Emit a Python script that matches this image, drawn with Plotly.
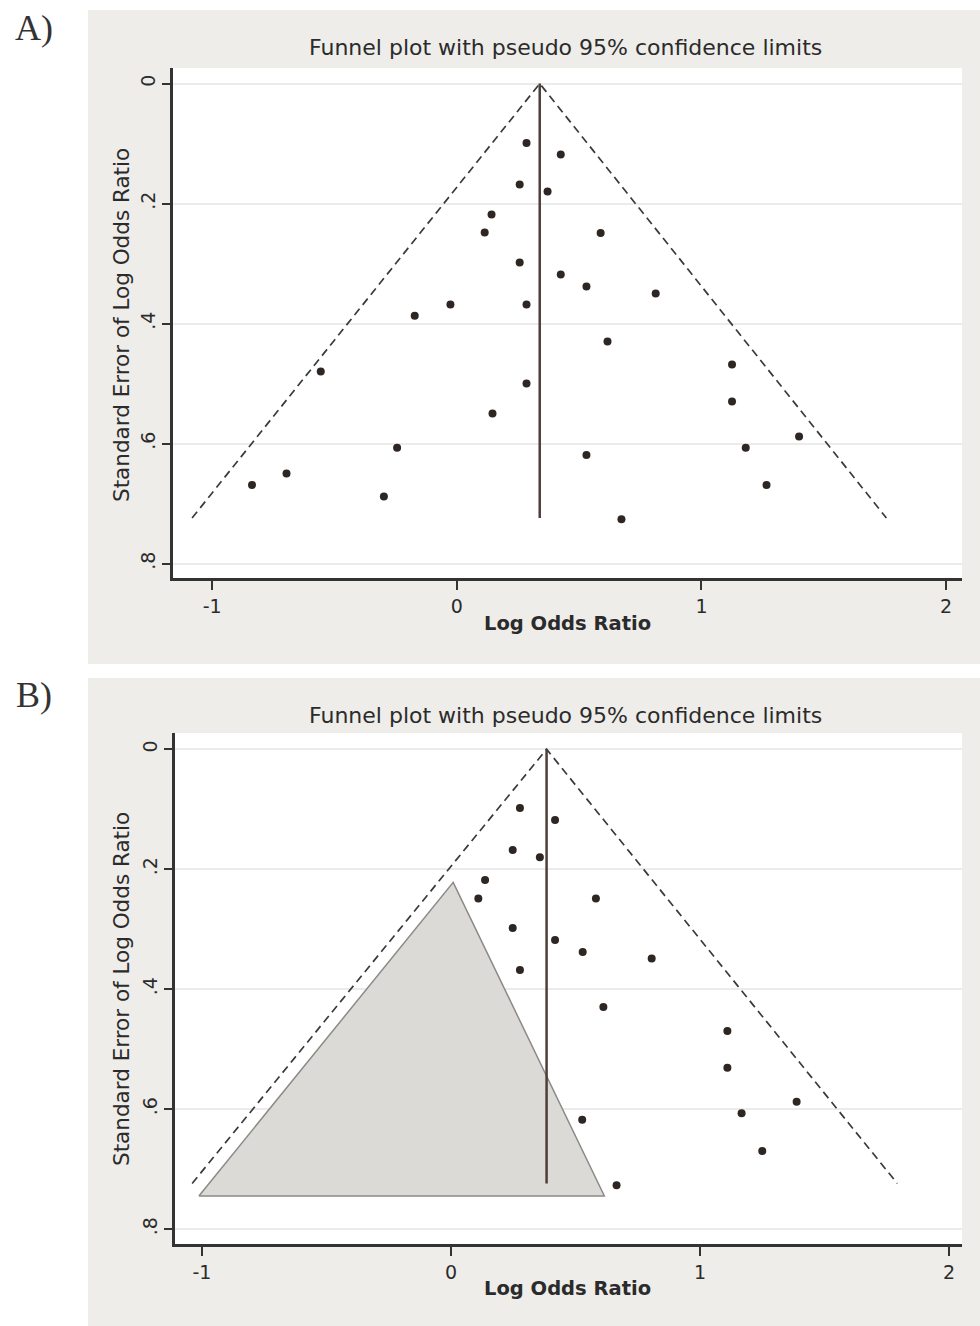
import plotly.graph_objects as go

# ---------------- data ----------------
# Panel A: all studies
a_logor = [0.285, 0.425, 0.257, 0.371, 0.142, 0.114, 0.588, 0.257, 0.425, 0.530,
           0.813, 0.285, -0.026, -0.172, 0.616, -0.556, 1.125, 0.285, 1.125, 0.146,
           1.399, -0.244, 1.181, 0.530, -0.696, -0.837, 1.266, -0.298, 0.673]
a_se = [0.099, 0.118, 0.168, 0.180, 0.218, 0.248, 0.249, 0.298, 0.318, 0.338,
        0.350, 0.368, 0.368, 0.387, 0.430, 0.480, 0.468, 0.500, 0.530, 0.550,
        0.588, 0.607, 0.607, 0.619, 0.650, 0.669, 0.669, 0.688, 0.726]
a_pooled = 0.339
a_funnel_x = [-1.082, 0.339, 1.756]
a_funnel_y = [0.724, 0.0, 0.724]
a_pooled_se = [0.0, 0.724]

# Panel B: studies visible outside the shaded (missing) region
b_logor = [0.277, 0.418, 0.248, 0.357, 0.137, 0.110, 0.582, 0.248, 0.418, 0.529,
           0.806, 0.277, 0.612, 1.110, 1.110, 1.388, 1.167, 0.527, 1.250, 0.665]
b_se = [0.098, 0.118, 0.168, 0.180, 0.218, 0.249, 0.249, 0.298, 0.318, 0.338,
        0.349, 0.368, 0.430, 0.470, 0.531, 0.588, 0.607, 0.618, 0.670, 0.727]
b_pooled = 0.384
b_funnel_x = [-1.039, 0.384, 1.792]
b_funnel_y = [0.724, 0.0, 0.724]
b_pooled_se = [0.0, 0.724]
b_missing_x = [-1.012, 0.009, 0.616, -1.012]
b_missing_y = [0.745, 0.222, 0.745, 0.745]

y_ticks = [0, 0.2, 0.4, 0.6, 0.8]
y_ticktext = ["0", ".2", ".4", ".6", ".8"]
x_ticks = [-1, 0, 1, 2]
x_ticktext = ["-1", "0", "1", "2"]

title_text = "Funnel plot with pseudo 95% confidence limits"
x_title = "Log Odds Ratio"
y_title = "Standard Error of Log Odds Ratio"

# ---------------- styling ----------------
W, H = 980, 1326
FONT = "DejaVu Sans, Liberation Sans, Arial, sans-serif"
TXT = "#2b2b2b"
PANEL_BG = "#eeede9"
DOT = "#2e2622"
VLINE = "#4d3f37"
DASH = "8px,5px"


def px_x(p):
    return p / W


def px_y(p):
    return 1 - p / H


fig = go.Figure()

# Panel A traces
fig.add_trace(go.Scatter(x=a_funnel_x, y=a_funnel_y, mode="lines",
                         line=dict(color="#3a3a3a", width=1.7, dash=DASH),
                         xaxis="x", yaxis="y", hoverinfo="skip"))
fig.add_trace(go.Scatter(x=[a_pooled, a_pooled], y=a_pooled_se, mode="lines",
                         line=dict(color=VLINE, width=2.5),
                         xaxis="x", yaxis="y", hoverinfo="skip"))
fig.add_trace(go.Scatter(x=a_logor, y=a_se, mode="markers",
                         marker=dict(color=DOT, size=8),
                         xaxis="x", yaxis="y"))

# Panel B traces
fig.add_trace(go.Scatter(x=b_missing_x, y=b_missing_y, mode="lines", fill="toself",
                         fillcolor="#dcdad6", line=dict(color="#8c8a86", width=1.5),
                         xaxis="x2", yaxis="y2", hoverinfo="skip"))
fig.add_trace(go.Scatter(x=b_funnel_x, y=b_funnel_y, mode="lines",
                         line=dict(color="#3a3a3a", width=1.7, dash=DASH),
                         xaxis="x2", yaxis="y2", hoverinfo="skip"))
fig.add_trace(go.Scatter(x=[b_pooled, b_pooled], y=b_pooled_se, mode="lines",
                         line=dict(color=VLINE, width=2.5),
                         xaxis="x2", yaxis="y2", hoverinfo="skip"))
fig.add_trace(go.Scatter(x=b_logor, y=b_se, mode="markers",
                         marker=dict(color=DOT, size=8),
                         xaxis="x2", yaxis="y2"))


def xaxis_cfg(domain, rng, anchor):
    return dict(domain=domain, range=rng, anchor=anchor,
                tickvals=x_ticks, ticktext=x_ticktext,
                ticks="outside", ticklen=9, tickwidth=2, tickcolor="#333",
                showline=True, linecolor="#333", linewidth=2.5,
                showgrid=False, zeroline=False,
                tickfont=dict(family=FONT, size=19, color=TXT))


def yaxis_cfg(domain, rng, anchor):
    return dict(domain=domain, range=rng, anchor=anchor,
                tickvals=y_ticks, ticktext=y_ticktext, tickangle=-90,
                ticks="outside", ticklen=8, tickwidth=2, tickcolor="#333",
                showline=True, linecolor="#333", linewidth=2.5,
                showgrid=True, gridcolor="#ebebeb", gridwidth=1.5,
                zeroline=False,
                tickfont=dict(family=FONT, size=19, color=TXT))


shapes = [
    dict(type="rect", xref="paper", yref="paper", layer="below",
         x0=px_x(88), x1=1, y0=px_y(664), y1=px_y(10),
         fillcolor=PANEL_BG, line=dict(width=0)),
    dict(type="rect", xref="paper", yref="paper", layer="below",
         x0=px_x(88), x1=1, y0=0, y1=px_y(678),
         fillcolor=PANEL_BG, line=dict(width=0)),
    dict(type="rect", xref="paper", yref="paper", layer="below",
         x0=px_x(173), x1=px_x(962), y0=px_y(578), y1=px_y(68),
         fillcolor="white", line=dict(width=0)),
    dict(type="rect", xref="paper", yref="paper", layer="below",
         x0=px_x(175), x1=px_x(962), y0=px_y(1244), y1=px_y(733),
         fillcolor="white", line=dict(width=0)),
]

annotations = []
for (lab, ly, ty, xty, yty) in [("A)", 28, 48, 623, 325), ("B)", 695, 715, 1288, 989)]:
    annotations.append(dict(text=lab, x=px_x(34), y=px_y(ly), xref="paper", yref="paper",
                            showarrow=False, xanchor="center", yanchor="middle",
                            font=dict(family="Liberation Serif, Times New Roman, serif",
                                      size=36, color="#333")))
    annotations.append(dict(text=title_text, x=px_x(565), y=px_y(ty), xref="paper", yref="paper",
                            showarrow=False, xanchor="center", yanchor="middle",
                            font=dict(family=FONT, size=22, color=TXT)))
    annotations.append(dict(text="<b>" + x_title + "</b>", x=px_x(567), y=px_y(xty),
                            xref="paper", yref="paper",
                            showarrow=False, xanchor="center", yanchor="middle",
                            font=dict(family=FONT, size=19.5, color=TXT)))
    annotations.append(dict(text=y_title, x=px_x(121), y=px_y(yty),
                            xref="paper", yref="paper", textangle=-90,
                            showarrow=False, xanchor="center", yanchor="middle",
                            font=dict(family=FONT, size=21.5, color=TXT)))

fig.update_layout(
    width=W, height=H,
    margin=dict(l=0, r=0, t=0, b=0),
    paper_bgcolor="white", plot_bgcolor="rgba(0,0,0,0)",
    showlegend=False,
    xaxis=xaxis_cfg([px_x(173), px_x(962)], [-1.160, 2.065], "y"),
    yaxis=yaxis_cfg([px_y(578), px_y(68)], [0.824, -0.026], "x"),
    xaxis2=xaxis_cfg([px_x(175), px_x(962)], [-1.108, 2.052], "y2"),
    yaxis2=yaxis_cfg([px_y(1244), px_y(733)], [0.825, -0.027], "x2"),
    shapes=shapes,
    annotations=annotations,
)

fig.write_html("out.html",
               config={"displayModeBar": False},
               post_script="document.body.style.margin='0';document.body.style.overflow='hidden';")
